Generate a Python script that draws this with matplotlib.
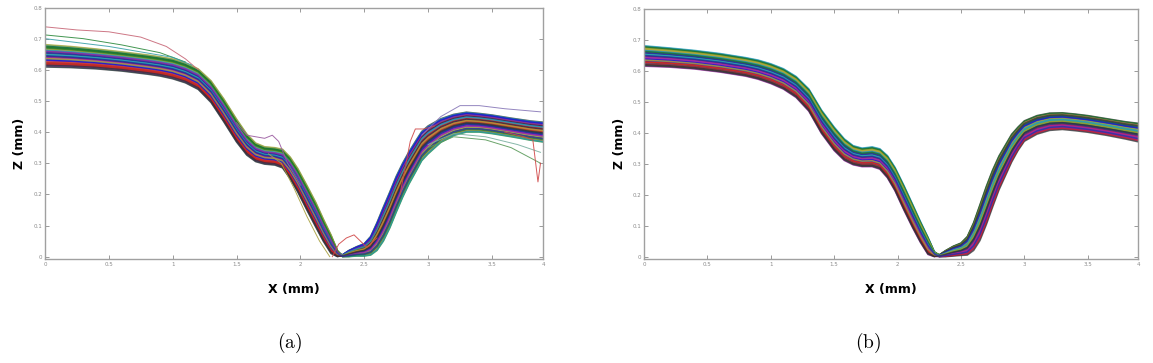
import numpy as np
from matplotlib import pyplot as plt

plt.rcParams["mathtext.fontset"] = "cm"

x_mm = [0, 0.2, 0.4, 0.6, 0.8, 0.9, 1.0, 1.1, 1.2, 1.3, 1.4, 1.5, 1.58, 1.65,
        1.72, 1.8, 1.86, 1.92, 1.98, 2.05, 2.12, 2.18, 2.24, 2.29, 2.33, 2.38,
        2.44, 2.5, 2.55, 2.6, 2.65, 2.7, 2.75, 2.8, 2.85, 2.9, 2.95, 3.0, 3.1,
        3.2, 3.3, 3.4, 3.5, 3.65, 3.8, 3.9]

# (a) centre of the bundle and its half height
center_a = [0.645, 0.641, 0.635, 0.627, 0.617, 0.611, 0.603, 0.59, 0.57, 0.53,
            0.47, 0.405, 0.36, 0.335, 0.325, 0.322, 0.315, 0.285, 0.245, 0.19,
            0.135, 0.085, 0.04, 0.01, 0.003, 0.01, 0.017, 0.022, 0.035, 0.065,
            0.105, 0.15, 0.2, 0.245, 0.285, 0.32, 0.355, 0.375, 0.405, 0.423,
            0.432, 0.43, 0.425, 0.415, 0.405, 0.40]
spread_a = [0.036, 0.034, 0.032, 0.031, 0.031, 0.031, 0.032, 0.032, 0.033,
            0.035, 0.037, 0.037, 0.034, 0.03, 0.028, 0.028, 0.03, 0.035, 0.038,
            0.04, 0.04, 0.036, 0.03, 0.01, 0.003, 0.01, 0.015, 0.02, 0.03,
            0.045, 0.055, 0.058, 0.058, 0.055, 0.052, 0.05, 0.047, 0.045,
            0.038, 0.034, 0.032, 0.03, 0.03, 0.03, 0.031, 0.032]

# (b) centre of the bundle and its half height
center_b = [0.647, 0.642, 0.635, 0.625, 0.612, 0.603, 0.59, 0.573, 0.547,
            0.505, 0.435, 0.38, 0.345, 0.327, 0.32, 0.322, 0.315, 0.29, 0.25,
            0.19, 0.13, 0.08, 0.035, 0.008, 0.003, 0.01, 0.018, 0.024, 0.035,
            0.065, 0.11, 0.165, 0.22, 0.27, 0.31, 0.35, 0.38, 0.405, 0.425,
            0.435, 0.437, 0.433, 0.428, 0.418, 0.407, 0.40]
spread_b = [0.033, 0.031, 0.03, 0.03, 0.03, 0.031, 0.032, 0.033, 0.034, 0.036,
            0.038, 0.038, 0.035, 0.031, 0.03, 0.032, 0.033, 0.036, 0.038, 0.04,
            0.038, 0.034, 0.028, 0.008, 0.003, 0.01, 0.016, 0.02, 0.03, 0.045,
            0.058, 0.062, 0.06, 0.055, 0.05, 0.045, 0.038, 0.033, 0.03, 0.028,
            0.027, 0.027, 0.027, 0.027, 0.028, 0.03]

# where each profile sits inside the bundle (-1 bottom, 1 top),
# left of the groove and right of it (they reorder at the bottom)
pos_a_left = [0.9, -0.6, 0.2, -0.95, 0.55, -0.2, 0.75, -0.8, 0.05, 0.35,
              -0.45, 0.95, -0.1, 0.65, -0.7, 0.45, -0.3, 0.85, -0.55, 0.15,
              -0.9, 0.6, -0.05, 0.3, -0.4, 0.8, -0.75, 0.5, -0.15, 1.0, -1.0,
              0.25, -0.35, 0.7, -0.65, 0.1, 0.4, -0.25, -0.85, 0.0]
pos_a_right = [-0.3, 0.7, -0.9, 0.45, 0.1, 0.9, -0.6, 0.25, -0.15, 0.8,
               0.6, -0.45, 0.35, -0.8, 1.0, -0.05, 0.55, -1.0, 0.2, 0.95,
               -0.35, -0.7, 0.65, -0.2, 0.85, 0.0, 0.4, -0.95, 0.75, -0.5,
               0.3, -0.25, 0.9, -0.75, 0.05, 0.5, -0.4, 0.15, -0.1, -0.65]
pos_b_left = [0.95, -0.5, 0.25, -0.9, 0.6, -0.15, 0.8, -0.75, 0.1, 0.4,
              -0.35, 1.0, -0.05, 0.7, -0.65, 0.5, -0.25, 0.9, -0.55, 0.2,
              -1.0, 0.65, 0.0, 0.3, -0.45, 0.85, -0.8, 0.55, -0.2, 0.75,
              -0.95, 0.35, -0.3, 0.45, -0.6, 0.15, -0.1, -0.4, -0.85, 0.05]
pos_b_right = [0.4, 0.9, -0.7, 0.15, -0.35, 0.7, 1.0, -0.9, 0.55, -0.1,
               0.25, -0.55, 0.85, -0.25, 0.05, -0.8, 0.65, 0.95, -0.45, 0.3,
               -0.6, 0.8, -1.0, 0.45, -0.15, 0.6, -0.4, 0.1, -0.75, 0.35,
               0.75, -0.3, 0.5, -0.05, -0.85, 0.2, -0.5, 0.0, -0.2, -0.65]

# stray profiles in (a): (x, z, colour)
outliers_a = [
    ([0, 0.25, 0.5, 0.75, 0.95, 1.1, 1.2],
     [0.738, 0.728, 0.722, 0.705, 0.675, 0.635, 0.60], "#c86878"),
    ([0, 0.3, 0.6, 0.9, 1.1], [0.712, 0.70, 0.68, 0.655, 0.625], "#2e8b3e"),
    ([0, 0.5, 1.0, 1.15], [0.70, 0.675, 0.64, 0.615], "#3aa0a8"),
    ([1.5, 1.58, 1.65, 1.72, 1.78, 1.83, 1.9, 2.0],
     [0.43, 0.39, 0.385, 0.38, 0.39, 0.37, 0.30, 0.23], "#9a5aa0"),
    ([1.75, 1.85, 1.95, 2.05, 2.15, 2.23],
     [0.33, 0.30, 0.22, 0.13, 0.05, 0.0], "#a8a040"),
    ([2.25, 2.3, 2.36, 2.42, 2.47, 2.52, 2.6],
     [0.0, 0.04, 0.06, 0.07, 0.05, 0.03, 0.06], "#d04848"),
    ([2.78, 2.86, 2.9, 2.97, 3.05], [0.2, 0.37, 0.41, 0.41, 0.42], "#d04848"),
    ([2.95, 3.1, 3.25, 3.4, 3.6, 3.88],
     [0.39, 0.45, 0.485, 0.485, 0.475, 0.465], "#8878b8"),
    ([3.0, 3.2, 3.45, 3.65, 3.88], [0.35, 0.385, 0.375, 0.35, 0.30], "#5a9a5a"),
    ([3.0, 3.2, 3.45, 3.7, 3.88], [0.36, 0.395, 0.385, 0.36, 0.335], "#7ab0a0"),
    ([3.6, 3.75, 3.82, 3.86, 3.88], [0.40, 0.385, 0.375, 0.24, 0.30], "#d04848"),
]

# old matlab line colours, a bit washed out like the scan
colors = ["#1a1ad0", "#1a7a2a", "#d82020", "#20a8b0", "#a020a8", "#b0a830",
          "#303030", "#2030a0"]

x_ticks = [0, 0.5, 1, 1.5, 2, 2.5, 3, 3.5, 3.9]
x_tick_labels = ["0", "0.5", "1", "1.5", "2", "2.5", "3", "3.5", "4"]
y_ticks = [0, 0.1, 0.2, 0.3, 0.4, 0.5, 0.6, 0.7, 0.8]


def draw_panel(ax, center, spread, pos_left, pos_right, outliers):
    center = np.array(center)
    spread = np.array(spread)
    left = np.array(x_mm) < 2.33
    for i in range(len(pos_left)):
        p = np.where(left, pos_left[i], pos_right[i])
        z = np.clip(center + p * spread, 0, None)
        ax.plot(x_mm, z, color=colors[i % len(colors)], lw=1.1, alpha=0.75)
    for xs, zs, c in outliers:
        ax.plot(xs, zs, color=c, lw=0.7, alpha=0.9)
    ax.set_xlim(0, 3.9)
    ax.set_ylim(-0.0075, 0.8)
    ax.set_xticks(x_ticks)
    ax.set_xticklabels(x_tick_labels)
    ax.set_yticks(y_ticks)
    ax.set_yticklabels([f"{v:g}" for v in y_ticks])
    ax.tick_params(direction="in", length=3, width=0.6, pad=2, labelsize=4,
                   colors="#8a8a8a", top=True, right=True)
    for s in ax.spines.values():
        s.set_color("#a0a0a0")
        s.set_linewidth(1.0)
    ax.set_xlabel("X (mm)", fontsize=9, fontweight="bold", labelpad=12)


fig = plt.figure(figsize=(11.53, 3.63), dpi=100)
ax_a = fig.add_axes([0.039, 0.2865, 0.432, 0.6928])
ax_b = fig.add_axes([0.5585, 0.2865, 0.4289, 0.690])

draw_panel(ax_a, center_a, spread_a, pos_a_left, pos_a_right, outliers_a)
draw_panel(ax_b, center_b, spread_b, pos_b_left, pos_b_right, [])

fig.text(20 / 1153, 1 - 143 / 363, "Z (mm)", rotation=90, fontsize=9,
         fontweight="bold", ha="center", va="center")
fig.text(620 / 1153, 1 - 143 / 363, "Z (mm)", rotation=90, fontsize=9,
         fontweight="bold", ha="center", va="center")

fig.text(290 / 1153, 1 - 343 / 363, r"$\mathrm{(a)}$", fontsize=14,
         ha="center", va="center")
fig.text(868 / 1153, 1 - 343 / 363, r"$\mathrm{(b)}$", fontsize=14,
         ha="center", va="center")

fig.savefig("out.png", dpi=100)
